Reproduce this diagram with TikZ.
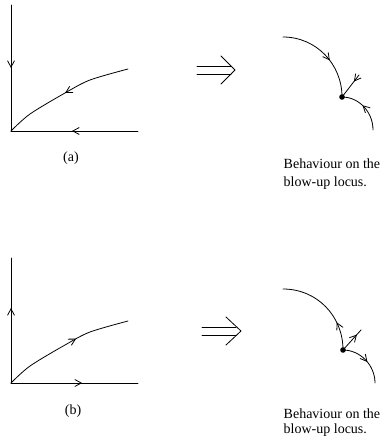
\documentclass[tikz,border=0pt]{standalone}
\usepackage{fontspec}
\setmainfont{Liberation Serif}
\usetikzlibrary{arrows.meta,decorations.markings}
\tikzset{
  ln/.style={line width=0.8pt, line cap=round, line join=round},
  flow/.style={postaction={decorate}, decoration={markings, mark=at position #1 with {\arrow{Straight Barb[length=6.5pt,width=7pt,line width=0.8pt]}}}},
  lbl/.style={font=\fontsize{14}{17}\selectfont, inner sep=0pt},
  dotmark/.style={fill=black},
}
\begin{document}
\begin{tikzpicture}[x=1pt,y=-1pt]
\useasboundingbox (0,0) rectangle (387,443);
% ---------- panel (a), left ----------
\coordinate (oa) at (11,131);
\coordinate (ya) at (11,5);
\coordinate (xa) at (138,131);
\draw[ln,flow=0.5] (ya) -- (oa);
\draw[ln,flow=0.52] (xa) -- (oa);
\draw[ln,flow=0.505] plot[smooth] coordinates {(128,69) (90,80) (65,93) (30,114) (11,131)};
% implies sign (a)
\draw[ln] (197,66) -- (231,66);
\draw[ln] (197,74) -- (231,74);
\draw[ln] (221,56) -- (235,70) -- (221,84);
% ---------- panel (a), right ----------
\coordinate (da) at (342,97);
\coordinate (ua) at (283,37);
\coordinate (sa) at (359,75);
\coordinate (wa) at (373,130);
\draw[ln,flow=0.58] (ua) .. controls (316,37) and (342,64) .. (da);
\draw[ln,flow=0.3] (sa) -- (da);
\draw[ln,flow=0.55] (wa) .. controls (373,112) and (359,97) .. (da);
\fill[dotmark] (da) circle[radius=2.8];
% ---------- panel (b), left ----------
\coordinate (ob) at (11,383);
\coordinate (yb) at (11,258);
\coordinate (xb) at (138,383);
\draw[ln,flow=0.6] (ob) -- (yb);
\draw[ln,flow=0.56] (ob) -- (xb);
\draw[ln,flow=0.59] plot[smooth] coordinates {(11,383) (30,366) (65,345) (90,332) (128,321)};
% implies sign (b)
\draw[ln] (202,327) -- (236,327);
\draw[ln] (202,335) -- (236,335);
\draw[ln] (226,317) -- (241,331) -- (226,345);
% ---------- panel (b), right ----------
\coordinate (db) at (343,350);
\coordinate (ub) at (283,289);
\coordinate (sb) at (361,330);
\coordinate (wb) at (375,383);
\draw[ln,flow=0.3] (db) .. controls (343,316) and (317,289) .. (ub);
\draw[ln,flow=0.77] (db) -- (sb);
\draw[ln,flow=0.55] (db) .. controls (360,350) and (375,365) .. (wb);
\fill[dotmark] (db) circle[radius=2.8];
% ---------- labels ----------
\node[lbl, anchor=base] (la) at (71,162) {(a)};
\node[lbl, anchor=base west] (ta1) at (283.5,169) {Behaviour on the};
\node[lbl, anchor=base west] (ta2) at (283.5,187) {blow-up locus.};
\node[lbl, anchor=base] (lb) at (73,414) {(b)};
\node[lbl, anchor=base west] (tb1) at (283.5,418) {Behaviour on the};
\node[lbl, anchor=base west] (tb2) at (283.5,433) {blow-up locus.};
\end{tikzpicture}
\end{document}
